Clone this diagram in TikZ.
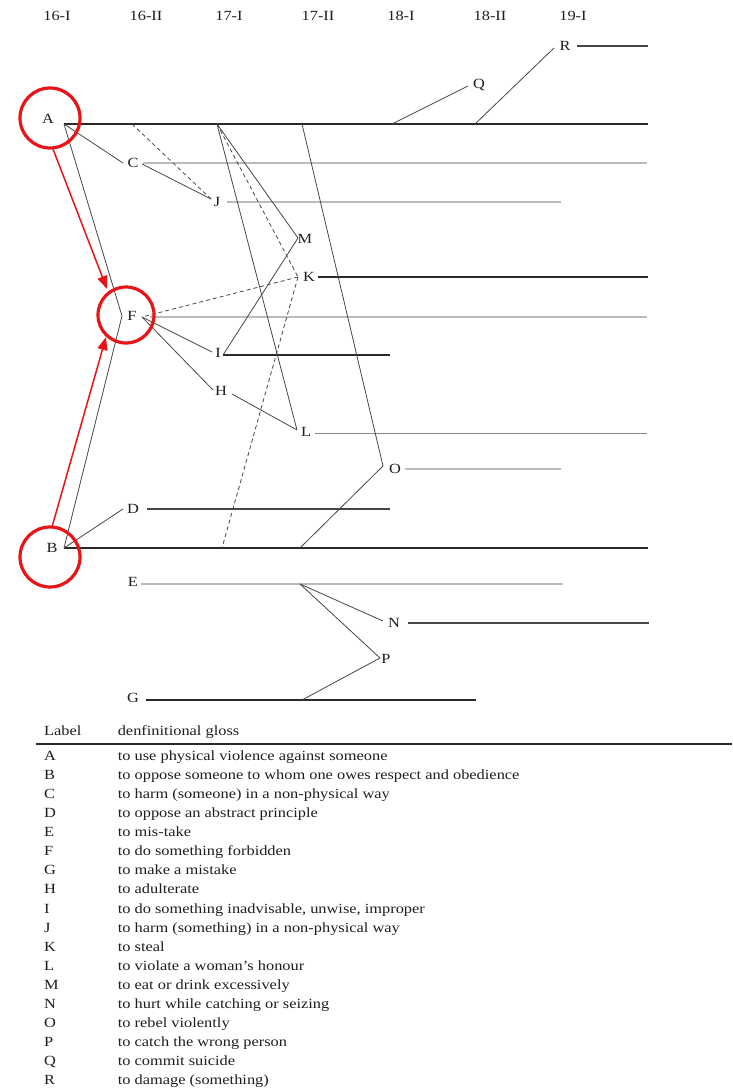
\documentclass[tikz,border=0pt]{standalone}
\usepackage{fontspec}
\setmainfont{Liberation Serif}[FakeStretch=1.17]
\usetikzlibrary{arrows.meta}
\definecolor{txt}{HTML}{1E1E1E}
\definecolor{dk}{HTML}{2A2A2A}
\definecolor{lt}{HTML}{BBBBBB}
\definecolor{md}{HTML}{888888}
\definecolor{edgec}{HTML}{464646}
\definecolor{ann}{RGB}{232,20,24}
\begin{document}
\begin{tikzpicture}[x=1pt,y=-1pt,
  lab/.style={anchor=base,inner sep=0pt,text=txt,font=\fontsize{14}{16}\selectfont},
  row/.style={anchor=base west,inner sep=0pt,text=txt,font=\fontsize{14}{16}\selectfont},
  dline/.style={draw=dk,line width=1.1pt},
  mline/.style={draw=md,line width=1pt},
  lline/.style={draw=lt,line width=1.2pt},
  link/.style={draw=edgec,line width=0.8pt},
  dlink/.style={link,dash pattern=on 4pt off 3pt},
  ring/.style={draw=ann,line width=3.2pt,circle,inner sep=0pt},
  redarrow/.style={draw=ann,line width=1.5pt,-{Triangle[length=13pt,width=10pt]}}
]
\useasboundingbox (0,0) rectangle (732,1089);

% period headers
\node[lab] (h1) at (57,21) {16-I};
\node[lab] (h2) at (146,21) {16-II};
\node[lab] (h3) at (229,21) {17-I};
\node[lab] (h4) at (318,21) {17-II};
\node[lab] (h5) at (401,21) {18-I};
\node[lab] (h6) at (490,21) {18-II};
\node[lab] (h7) at (573,21) {19-I};

% sense labels
\node[lab] (A) at (48,124) {A};
\node[lab] (C) at (133,167.5) {C};
\node[lab] (J) at (217,206) {J};
\node[lab] (M) at (305,243.5) {M};
\node[lab] (K) at (309,281.5) {K};
\node[lab] (F) at (132,320.5) {F};
\node[lab] (I) at (218,357.5) {I};
\node[lab] (H) at (221,395.5) {H};
\node[lab] (L) at (306,436.5) {L};
\node[lab] (O) at (395,473.5) {O};
\node[lab] (D) at (133,513.5) {D};
\node[lab] (B) at (52,552.5) {B};
\node[lab] (E) at (133,586.5) {E};
\node[lab] (N) at (394,627.5) {N};
\node[lab] (P) at (386,663.5) {P};
\node[lab] (G) at (133,702.5) {G};
\node[lab] (Q) at (479,88.5) {Q};
\node[lab] (R) at (565,50.5) {R};

% connection points
\coordinate (a0) at (64,124);   \coordinate (aE) at (648,124);
\coordinate (aX1) at (132,124); \coordinate (aX2) at (217,124);
\coordinate (aX3) at (302,124); \coordinate (aX4) at (392,124);
\coordinate (aX5) at (475,124);
\coordinate (cIn) at (123,163); \coordinate (cR) at (142,164);
\coordinate (c0) at (143,163);  \coordinate (cE) at (647,163);
\coordinate (jIn) at (211,199); \coordinate (j0) at (227,202); \coordinate (jE) at (561,202);
\coordinate (mIn) at (298,238);
\coordinate (kIn) at (298,277); \coordinate (k0) at (318,277); \coordinate (kE) at (648,277);
\coordinate (fL) at (122,316);  \coordinate (fR) at (142,317);
\coordinate (f0) at (150,317);  \coordinate (fE) at (647,317);
\coordinate (iL) at (212,352);  \coordinate (iR) at (223,355); \coordinate (iE) at (390,355);
\coordinate (hL) at (213,390);  \coordinate (hR) at (232,394);
\coordinate (lIn) at (297,430); \coordinate (l0) at (315,433); \coordinate (lE) at (647,433);
\coordinate (oIn) at (383,466); \coordinate (o0) at (405,469); \coordinate (oE) at (561,469);
\coordinate (dIn) at (123,509); \coordinate (d0) at (147,509); \coordinate (dE) at (390,509);
\coordinate (b0) at (64,548);   \coordinate (bE) at (648,548);
\coordinate (bX1) at (222,548); \coordinate (bX2) at (300,548);
\coordinate (e0) at (141,584);  \coordinate (eE) at (563,584); \coordinate (eX) at (300,584);
\coordinate (nIn) at (383,621); \coordinate (n0) at (408,623); \coordinate (nE) at (649,623);
\coordinate (pIn) at (380,658);
\coordinate (g0) at (146,700);  \coordinate (gE) at (476,700); \coordinate (gX) at (302,700);
\coordinate (qIn) at (468,86);
\coordinate (rIn) at (554,48);  \coordinate (r0) at (577,46); \coordinate (rE) at (648,46);

% horizontal life lines
\draw[dline,line width=1.3pt] (a0) -- (aE);
\draw[lline] (c0) -- (cE);
\draw[lline] (j0) -- (jE);
\draw[dline] (k0) -- (kE);
\draw[lline] (f0) -- (fE);
\draw[dline] (iR) -- (iE);
\draw[mline] (l0) -- (lE);
\draw[lline] (o0) -- (oE);
\draw[dline,draw=edgec] (d0) -- (dE);
\draw[dline,line width=1.3pt] (b0) -- (bE);
\draw[lline] (e0) -- (eE);
\draw[dline,draw=edgec] (n0) -- (nE);
\draw[dline,line width=1.3pt] (g0) -- (gE);
\draw[dline,draw=edgec] (r0) -- (rE);

% derivation links
\draw[link] (a0) -- (cIn);
\draw[link] (cR) -- (jIn);
\draw[dlink] (aX1) -- (jIn);
\draw[link] (a0) -- (fL);
\draw[link] (b0) -- (fL);
\draw[link] (aX2) -- (mIn);
\draw[dlink] (aX2) -- (kIn);
\draw[link] (aX2) -- (lIn);
\draw[link] (mIn) -- (iR);
\draw[dlink] (kIn) -- (fR);
\draw[dlink] (kIn) -- (bX1);
\draw[link] (fR) -- (iL);
\draw[link] (fR) -- (hL);
\draw[link] (hR) -- (lIn);
\draw[link] (aX3) -- (oIn);
\draw[link] (bX2) -- (oIn);
\draw[link] (b0) -- (dIn);
\draw[link] (eX) -- (nIn);
\draw[link] (eX) -- (pIn);
\draw[link] (gX) -- (pIn);
\draw[link] (aX4) -- (qIn);
\draw[link] (aX5) -- (rIn);

% red annotations
\node[ring,minimum size=60pt] (rA) at (50,118) {};
\node[ring,minimum size=56pt] (rF) at (126,315) {};
\node[ring,minimum size=60pt] (rB) at (50,557) {};
\coordinate (arA1) at (53,149);  \coordinate (arA2) at (107,289);
\coordinate (arB1) at (52,527);  \coordinate (arB2) at (106,337);
\draw[redarrow] (arA1) -- (arA2);
\draw[redarrow] (arB1) -- (arB2);

% gloss table
\node[row] (thL) at (44,735) {Label};
\node[row] (thG) at (117.6,735) {denfinitional gloss};
\coordinate (rule0) at (36,744); \coordinate (rule1) at (732,744);
\draw[draw=dk,line width=1.3pt] (rule0) -- (rule1);

\node[row] (tA) at (44,760.5) {A}; \node[row] (gA) at (117.6,760.5) {to use physical violence against someone};
\node[row] (tB) at (44,779.6) {B}; \node[row] (gB) at (117.6,779.6) {to oppose someone to whom one owes respect and obedience};
\node[row] (tC) at (44,798.6) {C}; \node[row] (gC) at (117.6,798.6) {to harm (someone) in a non-physical way};
\node[row] (tD) at (44,817.7) {D}; \node[row] (gD) at (117.6,817.7) {to oppose an abstract principle};
\node[row] (tE) at (44,836.7) {E}; \node[row] (gE) at (117.6,836.7) {to mis-take};
\node[row] (tF) at (44,855.8) {F}; \node[row] (gF) at (117.6,855.8) {to do something forbidden};
\node[row] (tG) at (44,874.9) {G}; \node[row] (gG) at (117.6,874.9) {to make a mistake};
\node[row] (tH) at (44,893.9) {H}; \node[row] (gH) at (117.6,893.9) {to adulterate};
\node[row] (tI) at (44,913.0) {I}; \node[row] (gI) at (117.6,913.0) {to do something inadvisable, unwise, improper};
\node[row] (tJ) at (44,932.0) {J}; \node[row] (gJ) at (117.6,932.0) {to harm (something) in a non-physical way};
\node[row] (tK) at (44,951.1) {K}; \node[row] (gK) at (117.6,951.1) {to steal};
\node[row] (tL) at (44,970.2) {L}; \node[row] (gL) at (117.6,970.2) {to violate a woman’s honour};
\node[row] (tM) at (44,989.2) {M}; \node[row] (gM) at (117.6,989.2) {to eat or drink excessively};
\node[row] (tN) at (44,1008.3) {N}; \node[row] (gN) at (117.6,1008.3) {to hurt while catching or seizing};
\node[row] (tO) at (44,1027.3) {O}; \node[row] (gO) at (117.6,1027.3) {to rebel violently};
\node[row] (tP) at (44,1046.4) {P}; \node[row] (gP) at (117.6,1046.4) {to catch the wrong person};
\node[row] (tQ) at (44,1065.5) {Q}; \node[row] (gQ) at (117.6,1065.5) {to commit suicide};
\node[row] (tR) at (44,1084.5) {R}; \node[row] (gR) at (117.6,1084.5) {to damage (something)};
\end{tikzpicture}
\end{document}
